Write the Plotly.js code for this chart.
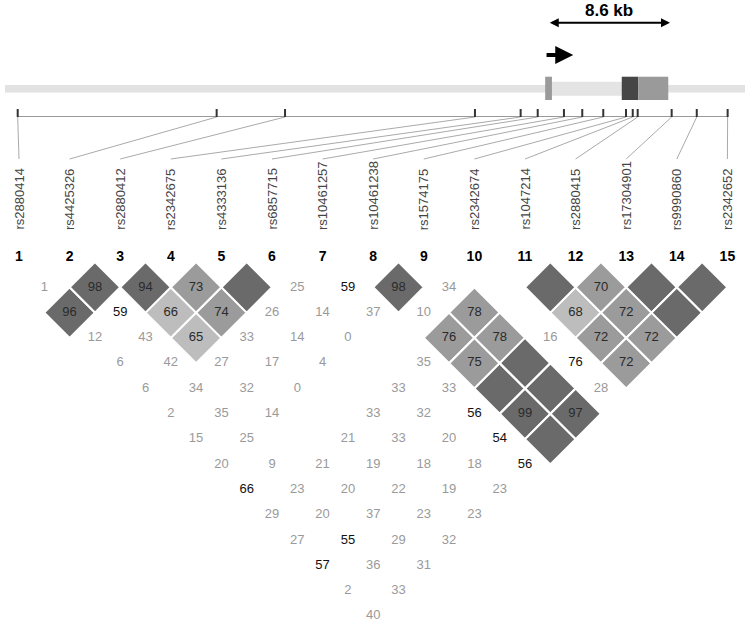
<!DOCTYPE html>
<html><head><meta charset="utf-8">
<script src="https://cdn.plot.ly/plotly-3.0.1.min.js"></script>
<style>html,body{margin:0;padding:0;background:#fff}#chart{width:750px;height:627px}</style>
</head><body><div id="chart"></div>
<script>
// ---- Data ----
const snpNames = ["rs2880414","rs4425326","rs2880412","rs2342675","rs4333136","rs6857715","rs10461257","rs10461238","rs1574175","rs2342674","rs1047214","rs2880415","rs17304901","rs9990860","rs2342652"];
const snpNumbers = [1,2,3,4,5,6,7,8,9,10,11,12,13,14,15];
// physical positions (kb, relative to first SNP)
const snpPosKb = [0, 14.11, 18.96, 32.43, 35.67, 36.88, 38.74, 40.04, 41.53, 43.14, 43.62, 43.97, 46.38, 48.16, 50.35];
// gene model (kb)
const regionSpan = [-0.9, 51.58];
const exonSmall = [37.41, 37.89];
const geneBody = [37.89, 42.84];
const exonDark = [42.84, 44.01];
const exonMid = [44.01, 46.14];
const txArrow = [37.40, 39.40];
const scaleBar = [37.63, 46.26];
const scaleLabel = "8.6 kb";
// pairwise LD (D' x 100), row i = SNP i+1, entries for SNP j = i+2 .. 15; null = blank cell
const ldValues = [
  [1, 96, 12, 6, 6, 2, 15, 20, 66, 29, 27, 57, 2, 40],
  [98, 59, 43, 42, 34, 35, 25, 9, 23, 20, 55, 36, 33],
  [94, 66, 65, 27, 32, 14, null, 21, 20, 37, 29, 31],
  [73, 74, 33, 17, 0, null, 21, 19, 22, 23, 32],
  [null, 26, 14, 4, null, 33, 33, 18, 19, 23],
  [25, 14, 0, null, 33, 32, 20, 18, 23],
  [59, 37, null, 35, 33, 56, 54, 56],
  [98, 10, 76, 75, null, 99, null],
  [34, 78, 78, null, null, 97],
  [null, null, 16, 76, 28],
  [null, 68, 72, 72],
  [70, 72, 72],
  [null, null],
  [null]
];
// cell shading: 0 none, 1 light, 2 medium, 3 dark
const ldShade = [
  [0, 3, 0, 0, 0, 0, 0, 0, 0, 0, 0, 0, 0, 0],
  [3, 0, 0, 0, 0, 0, 0, 0, 0, 0, 0, 0, 0],
  [3, 1, 1, 0, 0, 0, 0, 0, 0, 0, 0, 0],
  [2, 2, 0, 0, 0, 0, 0, 0, 0, 0, 0],
  [3, 0, 0, 0, 0, 0, 0, 0, 0, 0],
  [0, 0, 0, 0, 0, 0, 0, 0, 0],
  [0, 0, 0, 0, 0, 0, 0, 0],
  [3, 0, 2, 2, 3, 3, 3],
  [0, 2, 2, 3, 3, 3],
  [0, 0, 0, 0, 0],
  [3, 1, 2, 2],
  [2, 2, 2],
  [3, 3],
  [3]
];

// ---- Geometry ----
const X_RANGE = [0.6245, 15.4466];
const KB_RANGE = [-1.2553, 51.936];
const Y_RANGE = [14.427, -10.356];
const py = p => (p - 262) / 25.3;
const kbToIdx = kb => X_RANGE[0] + (kb - KB_RANGE[0]) / (KB_RANGE[1] - KB_RANGE[0]) * (X_RANGE[1] - X_RANGE[0]);
const FONT = "Arial, 'Liberation Sans', sans-serif";
const shadeColors = {1: "#bdbdbd", 2: "#9b9b9b", 3: "#6a6a6a"};

const traces = [];
// diamonds
[1, 2, 3].forEach(s => {
  const xs = [], ys = [];
  ldShade.forEach((row, r) => row.forEach((sh, k) => {
    if (sh !== s) return;
    const i = r + 1, j = i + 1 + k;
    const c = (i + j) / 2, d = j - i;
    xs.push(c - 0.5, c, c + 0.5, c, c - 0.5, null);
    ys.push(d, d - 1, d, d + 1, d, null);
  }));
  traces.push({type: "scatter", mode: "lines", x: xs, y: ys, fill: "toself", fillcolor: shadeColors[s],
    line: {color: "#ffffff", width: 2}, hoverinfo: "skip", showlegend: false});
});
// cell values
{
  const xs = [], ys = [], tx = [], cols = [];
  ldValues.forEach((row, r) => row.forEach((v, k) => {
    if (v === null) return;
    const i = r + 1, j = i + 1 + k;
    xs.push((i + j) / 2); ys.push(j - i); tx.push(String(v));
    const sh = ldShade[r][k];
    cols.push(sh > 0 ? "#2a2a2a" : (v >= 50 ? "#111111" : "#9a9a9a"));
  }));
  traces.push({type: "scatter", mode: "text", x: xs, y: ys, text: tx,
    textfont: {family: FONT, size: 13, color: cols}, textposition: "middle center",
    hoverinfo: "skip", showlegend: false});
}
// connector lines from physical position to label
{
  const xs = [], ys = [];
  snpPosKb.forEach((p, k) => { xs.push(kbToIdx(p), snpNumbers[k], null); ys.push(py(117), py(159), null); });
  traces.push({type: "scatter", mode: "lines", x: xs, y: ys, line: {color: "#aaaaaa", width: 1},
    hoverinfo: "skip", showlegend: false});
}
// SNP numbers
traces.push({type: "scatter", mode: "text", x: snpNumbers, y: snpNumbers.map(() => py(257)),
  text: snpNumbers.map(n => "<b>" + n + "</b>"), textfont: {family: FONT, size: 14, color: "#000"},
  hoverinfo: "skip", showlegend: false});

// shapes
const shapes = [];
shapes.push({type: "rect", xref: "x2", yref: "y", x0: regionSpan[0], x1: regionSpan[1], y0: py(85), y1: py(92.5), fillcolor: "#e2e2e2", line: {width: 0}, layer: "below"});
shapes.push({type: "rect", xref: "x2", yref: "y", x0: geneBody[0], x1: geneBody[1], y0: py(81.7), y1: py(95.7), fillcolor: "#e4e4e4", line: {width: 0}});
shapes.push({type: "rect", xref: "x2", yref: "y", x0: exonSmall[0], x1: exonSmall[1], y0: py(76.7), y1: py(100), fillcolor: "#9a9a9a", line: {width: 0}});
shapes.push({type: "rect", xref: "x2", yref: "y", x0: exonDark[0], x1: exonDark[1], y0: py(76.7), y1: py(100), fillcolor: "#464646", line: {width: 0}});
shapes.push({type: "rect", xref: "x2", yref: "y", x0: exonMid[0], x1: exonMid[1], y0: py(76.7), y1: py(100), fillcolor: "#9a9a9a", line: {width: 0}});
shapes.push({type: "line", xref: "x2", yref: "y", x0: snpPosKb[0], x1: snpPosKb[snpPosKb.length - 1], y0: py(116.5), y1: py(116.5), line: {color: "#999999", width: 1}});
snpPosKb.forEach(p => shapes.push({type: "line", xref: "x2", yref: "y", x0: p, x1: p, y0: py(109), y1: py(117), line: {color: "#333333", width: 2}}));

// annotations
const annotations = [];
snpNames.forEach((n, k) => annotations.push({xref: "x", yref: "y", x: snpNumbers[k], y: py(232), text: n,
  textangle: -90, showarrow: false, xanchor: "center", yanchor: "bottom", font: {family: FONT, size: 13, color: "#444"}}));
annotations.push({xref: "x2", yref: "y", axref: "x2", ayref: "y", x: txArrow[1], y: py(55), ax: txArrow[0], ay: py(55),
  text: "", showarrow: true, arrowhead: 2, arrowsize: 0.9, arrowwidth: 4, arrowcolor: "#000"});
annotations.push({xref: "x2", yref: "y", axref: "x2", ayref: "y", x: scaleBar[1], y: py(22.7), ax: scaleBar[0], ay: py(22.7),
  text: "", showarrow: true, arrowhead: 2, arrowside: "end+start", arrowsize: 0.9, arrowwidth: 2, arrowcolor: "#000"});
annotations.push({xref: "x2", yref: "y", x: (scaleBar[0] + scaleBar[1]) / 2, y: py(10), text: "<b>" + scaleLabel + "</b>",
  showarrow: false, font: {family: FONT, size: 17, color: "#000"}});

const layout = {
  width: 750, height: 627, margin: {l: 0, r: 0, t: 0, b: 0},
  paper_bgcolor: "#fff", plot_bgcolor: "#fff", showlegend: false,
  xaxis: {range: X_RANGE, visible: false, fixedrange: true},
  xaxis2: {range: KB_RANGE, visible: false, overlaying: "x", fixedrange: true},
  yaxis: {range: Y_RANGE, visible: false, fixedrange: true},
  shapes: shapes, annotations: annotations
};
Plotly.newPlot("chart", traces, layout, {displayModeBar: false, staticPlot: true});
</script></body></html>
